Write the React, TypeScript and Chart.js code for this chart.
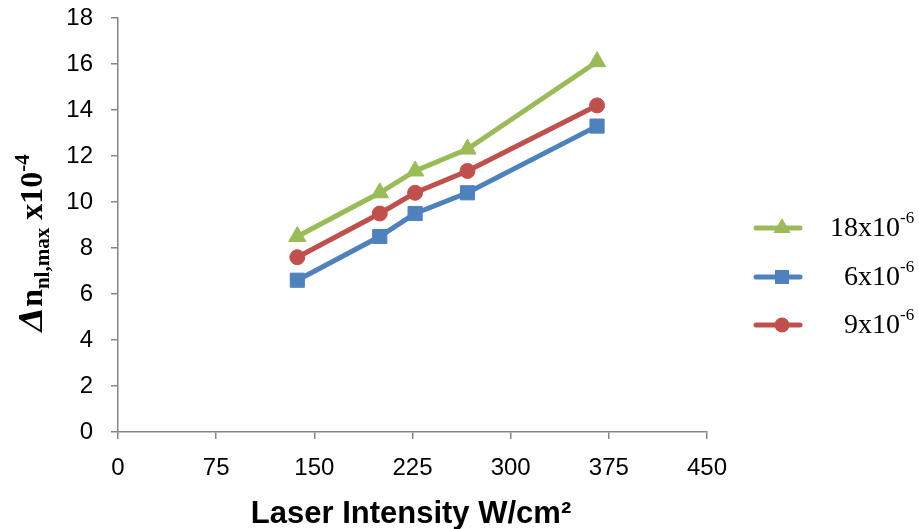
import React, { useEffect, useRef } from 'react';
import { Chart, registerables } from 'chart.js';

Chart.register(...registerables);

// Laser intensity (W/cm²)
const intensity = [137, 200, 227, 267, 366];
// Δn_nl,max (x10^-4) for each concentration
const series18 = [8.5, 10.4, 11.35, 12.3, 16.1];
const series6 = [6.6, 8.5, 9.5, 10.4, 13.3];
const series9 = [7.6, 9.5, 10.4, 11.35, 14.2];

const legendMain = ['18x10', '6x10', '9x10'];
const legendSup = ['-6', '-6', '-6'];

const xTitle = 'Laser Intensity W/cm²';
const yTitleParts = ['Δ', 'n', 'nl,max', ' x10', '-4'];

const GREEN = '#9BBB59';
const BLUE = '#4F81BD';
const RED = '#C0504D';
const AXIS = '#868686';

export default function App() {
  const ref = useRef<HTMLCanvasElement>(null);

  useEffect(() => {
    const canvas = ref.current!;
    const toPts = (ys: number[]) => intensity.map((x, i) => ({ x, y: ys[i] }));

    const datasets: any[] = [
      {
        label: legendMain[0] + legendSup[0],
        data: toPts(series18),
        borderColor: GREEN,
        backgroundColor: GREEN,
        pointStyle: 'triangle',
        pointRadius: 10,
        pointBorderWidth: 1,
        borderWidth: 5,
        tension: 0,
      },
      {
        label: legendMain[1] + legendSup[1],
        data: toPts(series6),
        borderColor: BLUE,
        backgroundColor: BLUE,
        pointStyle: 'rect',
        pointRadius: 10,
        pointBorderWidth: 1,
        borderWidth: 5,
        tension: 0,
      },
      {
        label: legendMain[2] + legendSup[2],
        data: toPts(series9),
        borderColor: RED,
        backgroundColor: RED,
        pointStyle: 'circle',
        pointRadius: 7.5,
        pointBorderWidth: 1,
        borderWidth: 5,
        tension: 0,
      },
    ];

    const custom = {
      id: 'customText',
      afterDraw(chart: any) {
        const ctx = chart.ctx as CanvasRenderingContext2D;

        // X title
        ctx.save();
        ctx.fillStyle = '#000';
        ctx.font = 'bold 31px "Liberation Sans", Arial, sans-serif';
        ctx.textAlign = 'center';
        ctx.textBaseline = 'alphabetic';
        ctx.fillText(xTitle, 411, 523);
        ctx.restore();

        // Y title (rotated) with subscript and superscript
        ctx.save();
        ctx.fillStyle = '#000';
        const fonts = [
          'italic bold 32px "DejaVu Serif", "Liberation Serif", serif',
          'bold 32px "Liberation Serif", serif',
          'bold 21px "Liberation Serif", serif',
          'bold 32px "Liberation Serif", serif',
          'bold 21px "Liberation Serif", serif',
        ];
        const shifts = [0, 0, 7, 0, -13];
        let total = 0;
        const widths: number[] = [];
        yTitleParts.forEach((p, i) => {
          ctx.font = fonts[i];
          const w = ctx.measureText(p).width;
          widths.push(w);
          total += w;
        });
        ctx.translate(42, 243);
        ctx.rotate(-Math.PI / 2);
        ctx.textAlign = 'left';
        ctx.textBaseline = 'alphabetic';
        let x = -total / 2;
        yTitleParts.forEach((p, i) => {
          ctx.font = fonts[i];
          ctx.fillText(p, x, shifts[i]);
          x += widths[i];
        });
        ctx.restore();

        // Legend
        const rows = [228, 277, 325];
        const colors = [GREEN, BLUE, RED];
        const styles = ['triangle', 'rect', 'circle'];
        rows.forEach((y, i) => {
          ctx.save();
          ctx.strokeStyle = colors[i];
          ctx.fillStyle = colors[i];
          ctx.lineWidth = 5;
          ctx.lineCap = 'round';
          ctx.beginPath();
          ctx.moveTo(756, y);
          ctx.lineTo(800, y);
          ctx.stroke();
          const cx = 782;
          ctx.beginPath();
          if (styles[i] === 'triangle') {
            const r = 10;
            ctx.moveTo(cx, y - r);
            ctx.lineTo(cx + r * Math.sin((2 * Math.PI) / 3), y - r * Math.cos((2 * Math.PI) / 3));
            ctx.lineTo(cx + r * Math.sin((4 * Math.PI) / 3), y - r * Math.cos((4 * Math.PI) / 3));
            ctx.closePath();
          } else if (styles[i] === 'rect') {
            const s = 7;
            ctx.rect(cx - s, y - s, 2 * s, 2 * s);
          } else {
            ctx.arc(cx, y, 7.5, 0, Math.PI * 2);
          }
          ctx.fill();
          ctx.fillStyle = '#000';
          ctx.font = '28px "Liberation Serif", "Times New Roman", serif';
          ctx.textAlign = 'right';
          ctx.textBaseline = 'alphabetic';
          ctx.fillText(legendMain[i], 900, y + 8);
          ctx.font = '17px "Liberation Serif", "Times New Roman", serif';
          ctx.textAlign = 'left';
          ctx.fillText(legendSup[i], 900, y - 5);
          ctx.restore();
        });
      },
    };

    const tickFont = { family: '"Liberation Sans", Arial, sans-serif', size: 24 };

    const chart = new Chart(canvas, {
      type: 'line',
      data: { datasets },
      options: {
        animation: false,
        responsive: true,
        maintainAspectRatio: false,
        layout: { padding: { left: 0, top: 18, right: 212, bottom: 0 } },
        plugins: {
          legend: { display: false },
          tooltip: { enabled: false },
          title: { display: false },
        },
        scales: {
          x: {
            type: 'linear',
            min: 0,
            max: 450,
            ticks: { stepSize: 75, color: '#000', font: tickFont, padding: 15, maxRotation: 0 },
            grid: { drawOnChartArea: false, drawTicks: true, tickLength: 7, color: AXIS, lineWidth: 1.5 },
            border: { display: true, color: AXIS, width: 1.5 },
            afterFit: (s: any) => {
              s.height = 97;
              s.paddingLeft = 0;
              s.paddingRight = 0;
            },
          },
          y: {
            type: 'linear',
            min: 0,
            max: 18,
            ticks: { stepSize: 2, color: '#000', font: tickFont, padding: 18 },
            grid: { drawOnChartArea: false, drawTicks: true, tickLength: 7, color: AXIS, lineWidth: 1.5 },
            border: { display: true, color: AXIS, width: 1.5 },
            afterFit: (s: any) => {
              s.width = 118;
              s.paddingTop = 0;
              s.paddingBottom = 0;
            },
          },
        },
      } as any,
      plugins: [custom],
    });

    return () => chart.destroy();
  }, []);

  return (
    <div style={{ position: 'absolute', left: 0, top: 0, width: 919, height: 529 }}>
      <canvas ref={ref} />
    </div>
  );
}
